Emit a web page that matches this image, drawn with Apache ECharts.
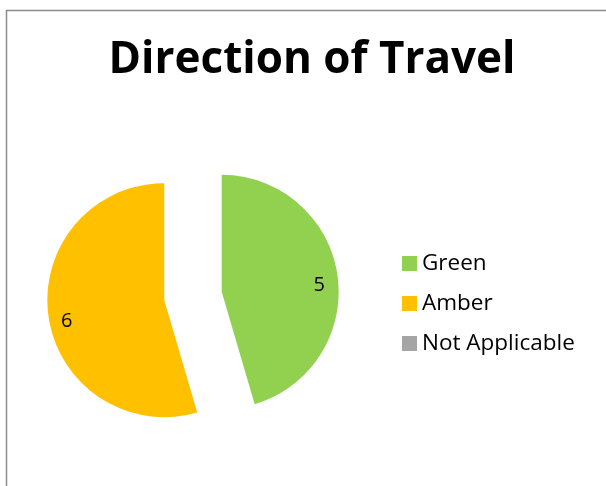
<!DOCTYPE html>
<html><head><meta charset="utf-8">
<script src="https://cdn.jsdelivr.net/npm/echarts@6/dist/echarts.min.js"></script>
<style>html,body{margin:0;padding:0;background:#fff}#c{width:606px;height:486px}</style>
</head><body><div id="c"></div>
<script>
const categories = ['Green', 'Amber', 'Not Applicable'];
const values = [5, 6, 0];
const colors = ['#92D050', '#FFC000', '#A5A5A5'];

const total = values.reduce((a, b) => a + b, 0);
const mids = [];
let acc = 0;
values.forEach(v => { mids.push((acc + v / 2) / total * 2 * Math.PI); acc += v; });
const labelShift = 37;

const chart = echarts.init(document.getElementById('c'));
chart.setOption({
  animation: false,
  graphic: [{
    type: 'rect', shape: { x: 6.5, y: 10.5, width: 700, height: 600 },
    style: { fill: 'none', stroke: '#8c8c8c', lineWidth: 1.5 }, silent: true
  }],
  title: {
    text: 'Direction of Travel', left: 307, top: 33, textAlign: 'center',
    textStyle: { fontFamily: 'Open Sans', fontWeight: 'bold', fontSize: 44, color: '#000' }
  },
  legend: {
    orient: 'vertical', left: 397, top: 247, itemWidth: 15, itemHeight: 15, itemGap: 17,
    icon: 'rect',
    textStyle: { fontFamily: 'Open Sans', fontSize: 22.5, lineHeight: 22, color: '#000' },
    data: categories
  },
  series: [{
    type: 'pie', center: [193, 296], radius: [0, 117], startAngle: 90, clockwise: true,
    selectedMode: 'multiple', selectedOffset: 29,
    emphasis: { disabled: true },
    label: { show: true, position: 'inside', fontFamily: 'Open Sans', fontSize: 20, color: '#000', formatter: '{c}' },
    labelLine: { show: false },
    labelLayout: function (p) {
      const a = mids[p.dataIndex];
      return { dx: labelShift * Math.sin(a), dy: -labelShift * Math.cos(a) + 7 };
    },
    data: categories.map((n, i) => ({
      name: n, value: values[i], selected: true,
      itemStyle: { color: colors[i] },
      label: { show: values[i] > 0 }
    }))
  }]
});
</script></body></html>
